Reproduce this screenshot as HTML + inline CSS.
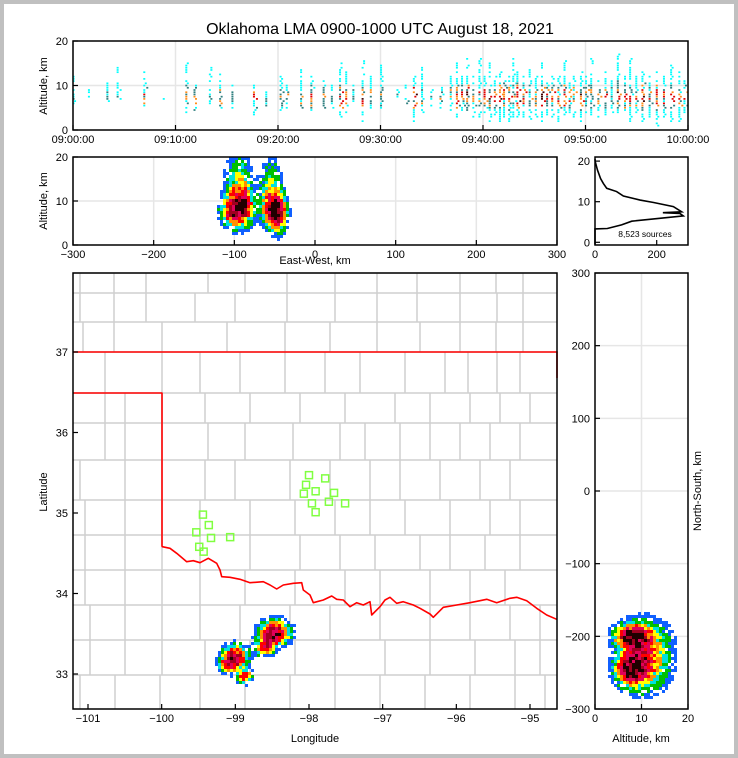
<!DOCTYPE html>
<html><head><meta charset="utf-8"><style>
html,body{margin:0;padding:0;background:#c0c0c0;}
svg{display:block;font-family:"Liberation Sans",sans-serif;}
</style></head><body>
<svg id="c" width="738" height="758" viewBox="0 0 738 758">
<rect x="4" y="4" width="730" height="750" fill="#fff"/>
<text x="380" y="34" font-size="16" text-anchor="middle">Oklahoma LMA 0900-1000 UTC August 18, 2021</text>
</svg>
<script>
// ---------- DATA ----------
const colTime=[0.2,1.7,3.5,4.5,7.1,9,11.2,12,13.5,14.5,15.7,17.8,19,20.4,21,22.4,23.4,24.6,25.4,26.2,26.8,27.5,28.4,29.2,30.2,31.8,32.6,33.4,34.2,35.1,36,37,37.6,38.1,38.6,39.2,39.8,40.3,40.8,41.3,41.8,42.2,42.7,43.1,43.5,44.1,44.7,45.3,45.9,46.4,46.9,47.5,48.1,48.6,49,49.7,50.2,50.7,51.4,52.1,52.7,53.3,54,54.5,55.1,55.7,56.4,57.1,57.8,58.5,59.3,59.8];
const colLow=[6,7,5,7,5,7,4,4,6,4,5,3,5,4,4,5,3,5,5,3,4,6,2,5,5,7,5,2,4,5,5,4,3,4,4,3,3,4,2,3,2,3,2,3,3,3,2,3,2,3,3,2,2,4,3,2,3,3,3,3,4,3,3,2,4,2,3,1,3,2,2,4];
const colHigh=[14,9,11,14,13,8,15,10,14,13,10,10,9,12,10,14,12,11,10,16,13,10,17,12,15,9,10,13,14,9,10,12,15,12,16,13,17,12,15,12,14,11,12,16,13,12,14,12,15,11,13,12,16,12,12,14,12,16,12,13,11,17,12,16,12,13,12,14,12,15,13,12];
const colInt=[0.3,0.2,0.4,0.3,0.6,0.2,0.5,0.7,0.4,0.7,0.4,0.7,0.4,0.5,0.5,0.5,0.7,0.5,0.4,0.9,0.6,0.4,0.9,0.5,0.5,0.3,0.4,0.9,0.5,0.4,0.4,0.5,0.8,0.6,0.9,0.6,0.6,0.7,0.9,0.6,0.9,0.7,0.7,0.6,0.9,0.7,0.6,0.6,0.9,0.6,0.7,0.7,0.9,0.6,0.6,0.9,0.6,0.6,0.6,0.7,0.5,0.9,0.8,0.7,0.6,0.9,0.6,0.9,0.7,0.8,0.7,0.6];
const ewX=[-100,-88,-52,-45,-95,-55];
const ewA=[8,9,8,7,14,13];
const ewSx=[9,8,8,6,10,8];
const ewSy=[2.2,2.5,2.2,2.5,4,4];
const ewW=[0.9,0.65,0.9,0.65,0.32,0.3];
const histAlt=[-0.5,3.3,3.4,4.3,5.2,5.9,6.5,7.1,7.3,7.5,8.8,9.8,10.4,11.4,12.5,13.3,14.5,15.7,17.8,19.8,20.5];
const histCount=[0,0,40,86,119,210,286,275,220,281,254,190,146,92,70,38,27,18,8,1,0];
const mapLon=[-98.46,-98.56,-99.0,-98.87,-99.1,-98.62];
const mapLat=[33.52,33.4,33.2,32.97,33.12,33.3];
const mapSx=[0.12,0.09,0.1,0.06,0.08,0.08];
const mapSy=[0.09,0.07,0.09,0.05,0.06,0.05];
const mapW=[0.95,0.5,0.95,0.7,0.45,0.4];
const stLon=[-99.44,-99.36,-99.53,-99.33,-99.49,-99.43,-99.07,-98.00,-97.78,-98.04,-97.91,-98.07,-97.66,-97.96,-97.73,-97.51,-97.91];
const stLat=[34.98,34.85,34.76,34.69,34.58,34.52,34.70,35.47,35.43,35.35,35.27,35.24,35.25,35.12,35.14,35.12,35.01];
const nsA=[8,7.5,9,12,11];
const nsY=[-200,-245,-225,-215,-250];
const nsSx=[2.2,1.8,2.5,3,3];
const nsSy=[9,11,24,22,18];
const nsW=[0.95,0.9,0.5,0.3,0.28];
const timeTicks=["09:00:00","09:10:00","09:20:00","09:30:00","09:40:00","09:50:00","10:00:00"];
const ewTicks=[-300,-200,-100,0,100,200,300];
const lonTicks=[-101,-100,-99,-98,-97,-96,-95];
const latTicks=[33,34,35,36,37];
const nsTicks=[-300,-200,-100,0,100,200,300];

// ---------- HELPERS ----------
const S=document.getElementById('c');const NS='http://www.w3.org/2000/svg';
function el(t,a,p){const e=document.createElementNS(NS,t);for(const k in a)e.setAttribute(k,a[k]);(p||S).appendChild(e);return e;}
function lin(d0,d1,r0,r1){return v=>r0+(v-d0)*(r1-r0)/(d1-d0);}
function txt(x,y,s,anchor,size,p,rot){const t=el('text',{x:x,y:y,'font-size':size||11,'text-anchor':anchor||'middle'},p);if(rot)t.setAttribute('transform','rotate(-90 '+x+' '+y+')');t.textContent=s;return t;}
const ramp=[[0.1,'#1060ff'],[0.17,'#00c000'],[0.24,'#00e0e0'],[0.32,'#ffff00'],[0.42,'#ff9000'],[0.55,'#ff0000'],[0.72,'#e0005a'],[0.88,'#a00020'],[9,'#200000']];
function rc(d){for(const r of ramp)if(d<r[0])return r[1];return '#200000';}
function hash(i,j){let h=(i*374761393+j*668265263)>>>0;h=((h^(h>>>13))*1274126177)>>>0;return (h^(h>>>16))%100/100;}
function blobs(g,X,Y,SX,SY,W,xs,ys,x0,x1,y0,y1,cell){
 for(let px=x0;px<x1;px+=cell)for(let py=y0;py<y1;py+=cell){
  let d=0;const xv=xs.inv(px+cell/2),yv=ys.inv(py+cell/2);
  for(let i=0;i<X.length;i++){const dx=(xv-X[i])/SX[i],dy=(yv-Y[i])/SY[i];d+=W[i]*Math.exp(-(dx*dx+dy*dy)/2);}
  if(d<0.05)continue;
  const i=Math.round(px/cell),j=Math.round(py/cell);
  const h=hash(i,j);
  if(h>Math.min(1,d*4))continue;
  const dd=d*(0.85+0.3*hash(j+7,i+3));
  const r=el('rect',{x:px,y:py,width:cell,height:cell,fill:rc(dd)},g);
  
  
 }
}
function scale(d0,d1,r0,r1){const f=lin(d0,d1,r0,r1);f.inv=lin(r0,r1,d0,d1);return f;}
function frame(x,y,w,h,name){const r=el('rect',{x:x,y:y,width:w,height:h,fill:'none',stroke:'#000','stroke-width':1.5});}
function grid(x1,y1,x2,y2,g){el('line',{x1:x1,y1:y1,x2:x2,y2:y2,stroke:'#e6e6e6','stroke-width':1.5},g);}
function tick(x1,y1,x2,y2){el('line',{x1:x1,y1:y1,x2:x2,y2:y2,stroke:'#000','stroke-width':1.2});}

// ---------- PANEL 1 ----------
{const g=el('g',{});
 const xs=scale(0,60,73,688),ys=scale(0,20,130,41);
 timeTicks.forEach((t,i)=>{const x=xs(i*10);grid(x,41,x,130,g);});grid(73,ys(10),688,ys(10),g);
 for(let c=0;c<colTime.length;c++){
  const x=xs(colTime[c]);let k=0;
  for(let a=colLow[c];a<=colHigh[c];a+=0.5,k++){
   const h=hash(c*31+k,k*17+c);
   const d=colInt[c]*Math.exp(-Math.pow((a-7.5)/3.2,2))*(0.8+0.4*hash(k+5,c+11));
   if(h>0.4+d*0.6)continue;
   let col=d>0.62?'#e00000':d>0.45?'#ff8c1a':d>0.3?'#2f7f7f':'#00ffff';
   if(d>0.9)col='#400000';
   const r=el('rect',{x:x-1+(h<0.2?-1.5:(h>0.5?1.5:0)),y:ys(a)-0.8,width:2,height:1.7,fill:col},g);
   
   
  }
 }
 frame(73,41,615,89,'time-height-frame');
 [0,10,20].forEach(v=>{tick(73,ys(v),78,ys(v));txt(68,ys(v)+4,String(v),'end',11);});
 timeTicks.forEach((t,i)=>{const x=xs(i*10);tick(x,130,x,125);txt(x,143,t,'middle',11);});
 txt(47,86,'Altitude, km','middle',11,null,true);
}
// ---------- PANEL 2 ----------
{const g=el('g',{});
 const xs=scale(-300,300,73,557),ys=scale(0,20,245,157);
 ewTicks.forEach(v=>grid(xs(v),157,xs(v),245,g));grid(73,ys(10),557,ys(10),g);
 blobs(g,ewX,ewA,ewSx,ewSy,ewW,xs,ys,190,330,157,245,3);
 frame(73,157,484,88,'east-west-frame');
 [0,10,20].forEach(v=>{tick(73,ys(v),78,ys(v));txt(68,ys(v)+4,String(v),'end',11);});
 ewTicks.forEach(v=>{tick(xs(v),245,xs(v),240);txt(xs(v),258,String(v).replace('-','\u2212'),'middle',11);});
 txt(315,264,'East-West, km','middle',11);
 txt(47,201,'Altitude, km','middle',11,null,true);
}
// ---------- PANEL 3 ----------
{const g=el('g',{});
 const xs=scale(0,200,595,656.7),ys=scale(0,10,242.3,201.7);
 const pts=histAlt.map((a,i)=>xs(histCount[i])+','+ys(a)).join(' ');
 const pl=el('polyline',{points:pts,fill:'none',stroke:'#000','stroke-width':1.6},g);
 
 
 frame(595,157,93,88,'histogram-frame');
 [0,10,20].forEach(v=>{tick(595,ys(v),600,ys(v));txt(590,ys(v)+4,String(v),'end',11);});
 [0,200].forEach(v=>{tick(xs(v),245,xs(v),240);txt(xs(v),258,String(v),'middle',11);});
 txt(645,237,'8,523 sources','middle',8.5);
}
// ---------- PANEL 4: map ----------
{const g=el('g',{});
 const xs=scale(-101,-95,88,530),ys=scale(37,33,352,674);
 const rows=[[273,293,[80,114,146,208,245,287,335,377,417,460,496,523]],[293,322,[80,114,146,195,235,287,335,377,417,460,497,523]],[322,352,[83,114,162,227,285,330,377,420,460,496,523]],[352,393,[105,162,200,240,285,325,360,405,445,468,497,520]],[393,423,[105,125,162,205,250,300,345,395,430,470,500,530]],[423,460,[105,125,162,208,245,293,340,365,400,430,460,490,520]],[460,500,[80,125,162,205,235,290,330,370,400,440,480,510]],[500,535,[85,125,162,200,250,295,335,370,405,450,490,520]],[535,570,[85,125,162,200,250,300,340,375,420,450,485,520]],[570,605,[85,125,162,200,245,295,345,380,430,470,505]],[605,640,[90,125,162,200,240,290,330,380,430,470,510,540]],[640,675,[90,125,162,205,250,295,335,385,430,475,515,540]],[675,709,[80,115,160,200,245,290,335,380,425,470,515,545]]];
 const cg=el('g',{stroke:'#cfcfcf','stroke-width':1.5,fill:'none'},g);
 rows.forEach(r=>{el('line',{x1:73,y1:r[0],x2:557,y2:r[0]},cg);r[2].forEach(x=>el('line',{x1:x,y1:r[0],x2:x,y2:r[1]},cg));});
 const rz=[[37,80],[60,85],[80,100],[110,125],[130,122],[150,128],[175,115],[200,130],[210,150],[215,170],[240,172],[270,178],[300,188],[340,185],[360,195],[380,207],[400,195],[430,190],[455,188],[460,210],[480,225],[490,248],[520,240],[545,228],[560,238],[580,240],[600,260],[620,248],[640,255],[660,245],[665,285],[690,260],[705,240],[720,232],[740,250],[760,245],[790,255],[810,265],[840,282],[850,292],[880,262],[920,255],[960,248],[990,242],[1010,238],[1040,248],[1080,235],[1100,232],[1130,242],[1160,265],[1190,285],[1220,298]];
 const rp=rz.map(p=>(150+p[0]/3).toFixed(1)+','+(520+p[1]/3).toFixed(1)).join(' ');
 const border=el('polyline',{points:"73,393 162,393 162,546 "+rp,fill:'none',stroke:'#ff0000','stroke-width':1.6,'stroke-linejoin':'round'},g);
 
 
 const top=el('polyline',{points:"73,352 557,352 557,378",fill:'none',stroke:'#ff0000','stroke-width':1.6},g);
 
 
 blobs(g,mapLon,mapLat,mapSx,mapSy,mapW,xs,ys,215,300,612,695,3);
 stLon.forEach((lo,i)=>{const r=el('rect',{x:xs(lo)-3.5,y:ys(stLat[i])-3.5,width:7,height:7,fill:'none',stroke:'#80ff40','stroke-width':1.5},g);
  
  });
 frame(73,273,484,436,'map-frame');
 latTicks.forEach(v=>{tick(73,ys(v),78,ys(v));txt(68,ys(v)+4,String(v),'end',11);});
 lonTicks.forEach(v=>{tick(xs(v),709,xs(v),704);txt(xs(v),722,String(v).replace('-','\u2212'),'middle',11);});
 txt(315,742,'Longitude','middle',11);
 txt(47,492,'Latitude','middle',11,null,true);
}
// ---------- PANEL 5 ----------
{const g=el('g',{});
 const xs=scale(0,20,595,688),ys=scale(-300,300,709,273);
 nsTicks.forEach(v=>grid(595,ys(v),688,ys(v),g));grid(xs(10),273,xs(10),709,g);
 blobs(g,nsA,nsY,nsSx,nsSy,nsW,xs,ys,596,688,600,700,3);
 frame(595,273,93,436,'north-south-frame');
 nsTicks.forEach(v=>{tick(595,ys(v),600,ys(v));txt(590,ys(v)+4,String(v).replace('-','\u2212'),'end',11);});
 [0,10,20].forEach(v=>{tick(xs(v),709,xs(v),704);txt(xs(v),722,String(v),'middle',11);});
 txt(641,742,'Altitude, km','middle',11);
 txt(701,491,'North-South, km','middle',11,null,true);
}
</script>
</body></html>
